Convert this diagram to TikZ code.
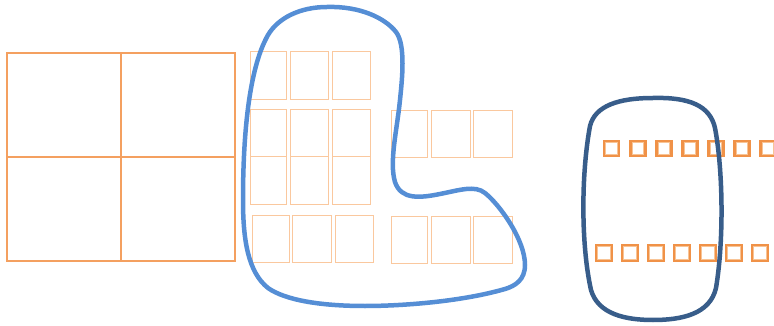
\documentclass[tikz,border=0pt]{standalone}
\usepackage{tikz}
\usetikzlibrary{arrows.meta, calc, positioning}
\usepackage{xcolor}
\definecolor{gridorange}{RGB}{244,160,96}
\definecolor{paleorange}{RGB}{250,200,158}
\definecolor{boxorange}{RGB}{240,146,72}
\definecolor{boxinner}{RGB}{248,196,150}
\definecolor{lightblue}{RGB}{85,142,213}
\definecolor{darkblue}{RGB}{56,93,138}

\begin{document}
\begin{tikzpicture}[x=1pt, y=-1pt,
    bigcell/.style={draw=gridorange, line width=1.1pt},
    palecell/.style={draw=paleorange, line width=1pt},
    tinybox/.style={draw=boxorange, line width=2.8pt, fill=white},
    tinyinner/.style={draw=boxinner, line width=0.8pt},
    blobline/.style={draw=lightblue, line width=4.5pt},
    loopline/.style={draw=darkblue, line width=4.5pt}]
    \useasboundingbox (0, 0) rectangle (774, 326);

    % 大格子
    \draw[bigcell] (7, 53) rectangle (235, 261);
    \draw[bigcell] (121, 53) -- (121, 261);
    \draw[bigcell] (7, 157) -- (235, 157);

    % 左边的小格子
    \foreach \xa/\xb in {250/286, 290/328, 332/370} {
        \foreach \ya/\yb in {52/100, 110/157, 157/204} {
            \draw[palecell] (\xa, \ya) rectangle (\xb, \yb);
        }
    }
    \foreach \xa/\xb in {252/289, 292/331, 335/373} {
        \draw[palecell] (\xa, 215) rectangle (\xb, 262);
    }

    % 右边的小格子
    \foreach \xa/\xb in {391/427, 431/470, 473/512} {
        \foreach \ya/\yb in {111/158, 216/263} {
            \draw[palecell] (\xa, \ya) rectangle (\xb, \yb);
        }
    }

    % 浅蓝色的圈
    \draw[blobline] (327, 7) .. controls (360, 6) and (385, 18) .. (396, 32)
        .. controls (406, 45) and (402, 80) .. (400, 100)
        .. controls (397, 130) and (389, 162) .. (395, 182)
        .. controls (401, 200) and (420, 198) .. (440, 194)
        .. controls (460, 190) and (475, 185) .. (485, 193)
        .. controls (500, 205) and (525, 240) .. (525, 265)
        .. controls (525, 280) and (515, 286) .. (505, 289)
        .. controls (460, 302) and (400, 306) .. (365, 306)
        .. controls (320, 306) and (285, 300) .. (268, 288)
        .. controls (248, 272) and (243, 240) .. (243, 200)
        .. controls (243, 140) and (248, 70) .. (268, 35)
        .. controls (278, 18) and (300, 7) .. (327, 7) -- cycle;

    % 小方块两排
    \foreach \i in {0, ..., 6} {
        \draw[tinybox] ({604 + 26.1*\i}, 141) rectangle ++(15, 15);
        \draw[tinyinner] ({605.8 + 26.1*\i}, 142.8) rectangle ++(11.4, 11.4);
        \draw[tinybox] ({596 + 26*\i}, 245) rectangle ++(16, 16);
        \draw[tinyinner] ({597.8 + 26*\i}, 246.8) rectangle ++(12.4, 12.4);
    }

    % 深蓝色的圈
    \draw[loopline] (653, 98) .. controls (690, 97) and (710, 106) .. (715, 128)
        .. controls (723, 170) and (724, 240) .. (716, 288)
        .. controls (710, 314) and (682, 320) .. (653, 320)
        .. controls (625, 320) and (598, 314) .. (591, 290)
        .. controls (581, 245) and (581, 175) .. (590, 126)
        .. controls (595, 106) and (618, 98) .. (653, 98) -- cycle;
\end{tikzpicture}
\end{document}
